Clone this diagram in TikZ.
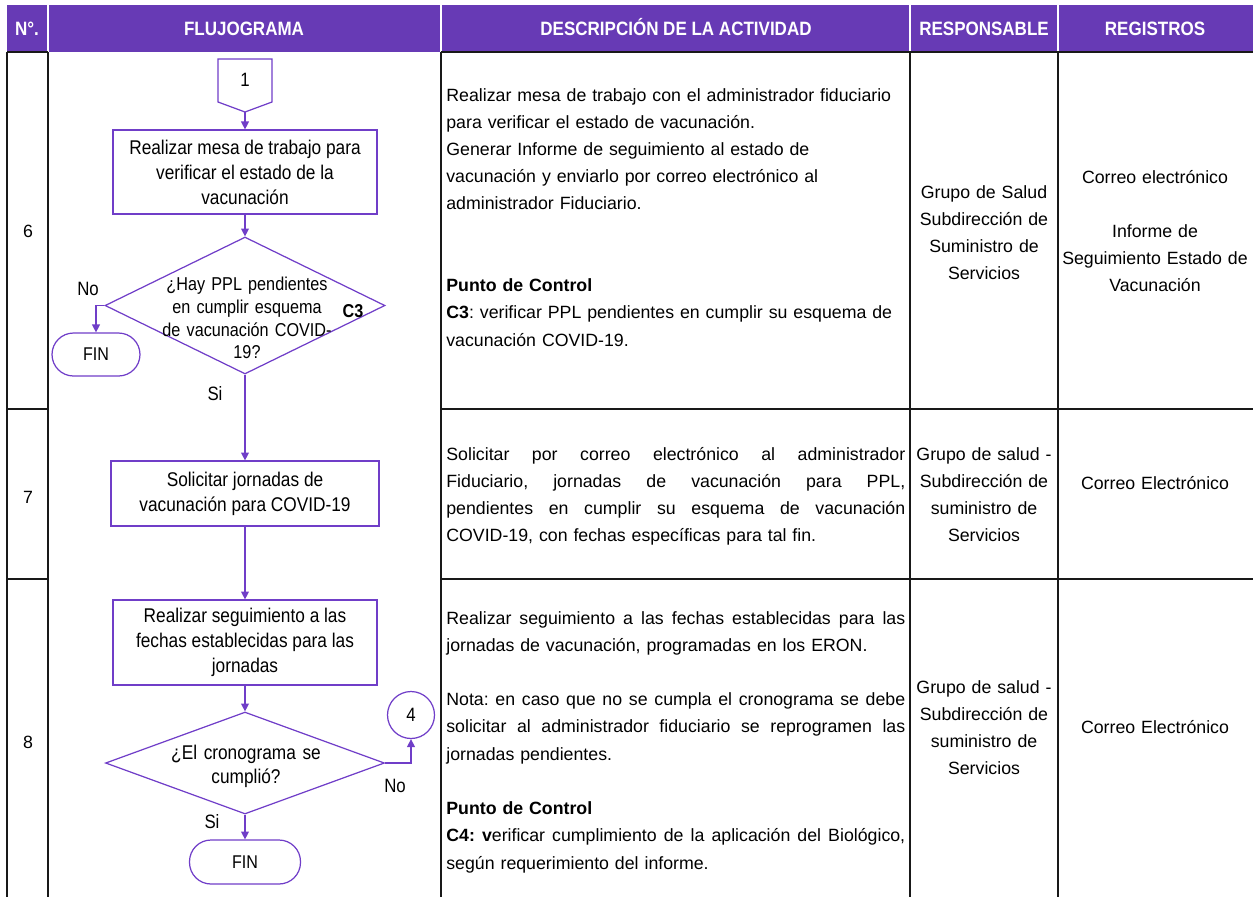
\documentclass[tikz,border=0pt]{standalone}
\usepackage{fontspec}
\setmainfont{Liberation Sans}
\newfontfamily\flowfam[FakeStretch=0.87]{Liberation Sans}
\newfontfamily\headfam[FakeStretch=0.88]{Liberation Sans}
\usepackage{xcolor}
\definecolor{headpurple}{RGB}{103,58,181}
\definecolor{flowpurple}{RGB}{112,62,200}
\newlength{\desccol}
\setlength{\desccol}{9.18cm}
\newcommand{\jline}[1]{{\spaceskip=0pt\xspaceskip=0pt\makebox[\desccol][s]{#1}}}
\usepackage{tikz}
\usetikzlibrary{arrows.meta}
\usetikzlibrary{shapes.geometric}
\usetikzlibrary{positioning}

\begin{document}
\frenchspacing
\begin{tikzpicture}[x=0.02cm, y=-0.02cm,
    grid/.style={line width=0.9pt, draw=black!90},
    headtxt/.style={anchor=base, text=white, inner sep=0pt, font=\headfam\bfseries\fontsize{11}{13}\selectfont},
    desc/.style={anchor=base west, inner sep=0pt, text width=9.4cm, align=left, font=\fontsize{10.1}{15.5}\selectfont},
    cell/.style={anchor=base, inner sep=0pt, align=center, font=\fontsize{10.1}{15.5}\selectfont},
    flow/.style={draw=flowpurple, line width=0.7pt},
    proc/.style={flow, rectangle, inner sep=2pt, align=center, font=\flowfam\fontsize{11.3}{14.2}\selectfont},
    decision/.style={flow, diamond, inner sep=0pt},
    term/.style={flow, rectangle, rounded corners=0.43cm, minimum height=0.86cm, font=\flowfam\fontsize{10.5}{12}\selectfont},
    lbl/.style={anchor=base, inner sep=0pt, font=\flowfam\fontsize{11}{13}\selectfont},
    arr/.style={flowpurple, line width=0.7pt, -{Triangle[length=4.5pt,width=4.5pt]}}]

  \useasboundingbox (0,0) rectangle (1253,897);

  % header band
  \fill[headpurple] (7,5) rectangle (1253,52);
  \foreach \x in {48,441,910,1058}
    \draw[white, line width=0.8pt] (\x,5) -- (\x,52);
  \node[headtxt] (hnum) at (27,35) {N°.};
  \node[headtxt] (hflow) at (244,35) {FLUJOGRAMA};
  \node[headtxt] (hdesc) at (676,35) {DESCRIPCIÓN DE LA ACTIVIDAD};
  \node[headtxt] (hresp) at (984,35) {RESPONSABLE};
  \node[headtxt] (hreg) at (1155,35) {REGISTROS};

  % table lines
  \foreach \x in {7,48,441,910,1058}
    \draw[grid] (\x,52) -- (\x,897);
  \foreach \y in {52,409,579} {
    \draw[grid] (7,\y) -- (48,\y);
    \draw[grid] (441,\y) -- (1253,\y);
  }

  % row numbers
  \node[cell] (n6) at (28,237) {6};
  \node[cell] (n7) at (28,503) {7};
  \node[cell] (n8) at (28,748) {8};

  % flowchart
  \draw[flow] (218,59) -- (272,59) -- (272,102) -- (245,112) -- (218,102) -- cycle;
  \node[lbl, anchor=center] (con1) at (245,80) {1};
  \coordinate (con1tip) at (245,112);
  \node[proc, minimum width=5.28cm, minimum height=1.68cm] (box1) at (245,172)
    {Realizar mesa de trabajo para\\ verificar el estado de la\\ vacunación};
  \node[decision, minimum width=5.6cm, minimum height=2.74cm] (q1) at (245,305.5) {};
  \node[inner sep=0pt, text width=3.6cm, align=center, font=\flowfam\fontsize{10.6}{13}\selectfont] (q1txt) at (247,318)
    {¿Hay PPL pendientes\\ en cumplir esquema\\ de vacunación COVID-\\ 19?};
  \node[lbl, font=\flowfam\bfseries\fontsize{10.6}{12}\selectfont] (c3) at (353,317) {C3};
  \node[term, minimum width=1.76cm] (fin1) at (96,354.5) {FIN};
  \node[proc, minimum width=5.36cm, minimum height=1.3cm] (box2) at (245,493.5)
    {Solicitar jornadas de\\ vacunación para COVID-19};
  \node[proc, minimum width=5.28cm, minimum height=1.7cm] (box3) at (245,642.5)
    {Realizar seguimiento a las\\ fechas establecidas para las\\ jornadas};
  \node[decision, minimum width=5.58cm, minimum height=2.04cm] (q2) at (245,763) {};
  \node[inner sep=0pt, text width=3.6cm, align=center, font=\flowfam\fontsize{11.3}{13.6}\selectfont] (q2txt) at (246,766)
    {¿El cronograma se\\ cumplió?};
  \node[flow, circle, minimum size=0.94cm, inner sep=0pt, font=\flowfam\fontsize{11}{13}\selectfont] (con4) at (411,715) {4};
  \node[term, minimum width=2.22cm, minimum height=0.88cm] (fin2) at (245,862) {FIN};

  \node[lbl] (no1) at (88,295) {No};
  \node[lbl] (si1) at (215,400) {Si};
  \node[lbl] (no2) at (395,792) {No};
  \node[lbl] (si2) at (212,828) {Si};

  \draw[arr] (con1tip) -- (box1);
  \draw[arr] (box1) -- (q1);
  \draw[arr] (q1.west) -| (fin1.north);
  \draw[arr] (q1) -- (box2);
  \draw[arr] (box2) -- (box3);
  \draw[arr] (box3) -- (q2);
  \draw[arr] (q2.east) -| (con4.south);
  \draw[arr] (q2) -- (fin2);

  % activity descriptions
  \node[desc] (d6) at (446,101)
    {Realizar mesa de trabajo con el administrador fiduciario\\
     para verificar el estado de vacunación.\\
     Generar Informe de seguimiento al estado de\\
     vacunación y enviarlo por correo electrónico al\\
     administrador Fiduciario.\\[2\baselineskip]
     \textbf{Punto de Control}\\
     \textbf{C3}: verificar PPL pendientes en cumplir su esquema de\\
     vacunación COVID-19.};
  \node[desc] (d7) at (446,460)
    {\jline{Solicitar por correo electrónico al administrador}\\
     \jline{Fiduciario, jornadas de vacunación para PPL,}\\
     \jline{pendientes en cumplir su esquema de vacunación}\\
     COVID-19, con fechas específicas para tal fin.};
  \node[desc] (d8) at (446,624)
    {\jline{Realizar seguimiento a las fechas establecidas para las}\\
     jornadas de vacunación, programadas en los ERON.\\[\baselineskip]
     \jline{Nota: en caso que no se cumpla el cronograma se debe}\\
     \jline{solicitar al administrador fiduciario se reprogramen las}\\
     jornadas pendientes.\\[\baselineskip]
     \textbf{Punto de Control}\\
     \jline{\textbf{C4: v}erificar cumplimiento de la aplicación del Biológico,}\\
     según requerimiento del informe.};

  % responsables and registros
  \node[cell, text width=2.96cm] (r6) at (984,198)
    {Grupo de Salud\\ Subdirección de\\ Suministro de\\ Servicios};
  \node[cell, text width=2.96cm] (r7) at (984,460)
    {Grupo de salud -\\ Subdirección de\\ suministro de\\ Servicios};
  \node[cell, text width=2.96cm] (r8) at (984,693)
    {Grupo de salud -\\ Subdirección de\\ suministro de\\ Servicios};
  \node[cell, text width=3.9cm] (g6) at (1155,183)
    {Correo electrónico\\[\baselineskip] Informe de\\ Seguimiento Estado de\\ Vacunación};
  \node[cell, text width=3.9cm] (g7) at (1155,489) {Correo Electrónico};
  \node[cell, text width=3.9cm] (g8) at (1155,733) {Correo Electrónico};

\end{tikzpicture}
\end{document}
